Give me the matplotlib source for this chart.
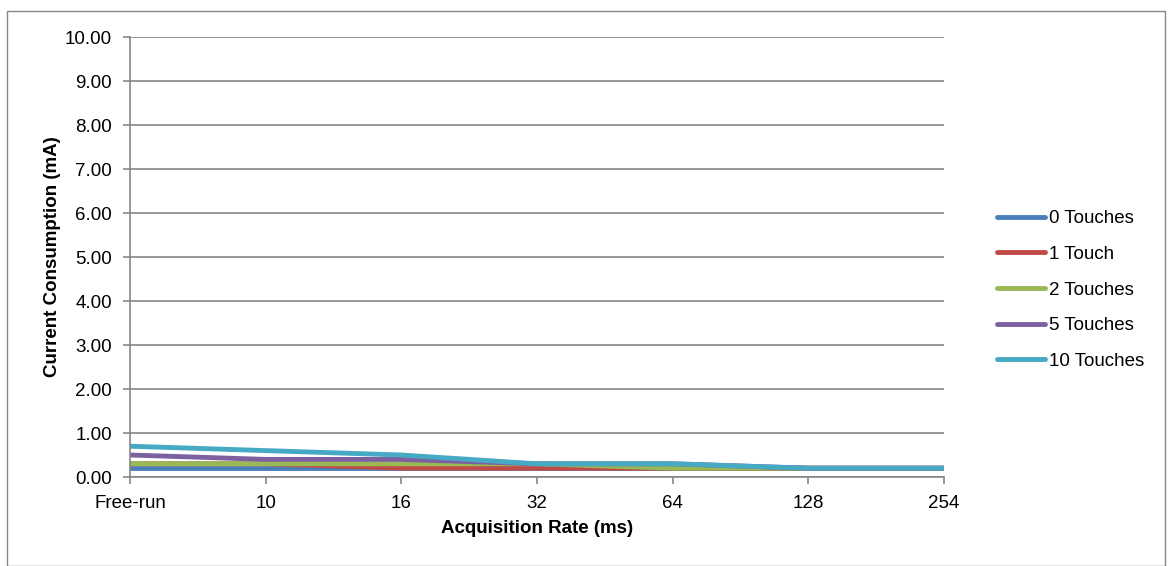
import matplotlib
matplotlib.use("Agg")
import matplotlib.pyplot as plt
from matplotlib.patches import Rectangle

categories = ["Free-run", "10", "16", "32", "64", "128", "254"]
series_names = ["0 Touches", "1 Touch", "2 Touches", "5 Touches", "10 Touches"]
touch0 = [0.2, 0.2, 0.2, 0.2, 0.2, 0.2, 0.2]
touch1 = [0.3, 0.3, 0.2, 0.2, 0.2, 0.2, 0.2]
touch2 = [0.3, 0.3, 0.3, 0.3, 0.2, 0.2, 0.2]
touch5 = [0.5, 0.4, 0.4, 0.3, 0.3, 0.2, 0.2]
touch10 = [0.7, 0.6, 0.5, 0.3, 0.3, 0.2, 0.2]
colors = ["#4A7EBB", "#BE4B48", "#98B954", "#7D60A0", "#46AAC5"]
yticks = [0, 1, 2, 3, 4, 5, 6, 7, 8, 9, 10]

plt.rcParams['font.family'] = ['Liberation Sans', 'DejaVu Sans']
FS = 13.5

W, H = 1171, 566
fig = plt.figure(figsize=(W / 100, H / 100), dpi=100)
fig.patch.set_facecolor("white")

# outer chart border
fig.patches.append(Rectangle((7 / W, 0), (1165 - 7) / W, (H - 11) / H,
                             transform=fig.transFigure, fill=False,
                             edgecolor="#868686", linewidth=1.0))

left, right, top, bottom = 130, 944, 37, 477
ax = fig.add_axes([left / W, 1 - bottom / H, (right - left) / W, (bottom - top) / H])

x = list(range(len(categories)))
for name, vals, c in zip(series_names, [touch0, touch1, touch2, touch5, touch10], colors):
    ax.plot(x, vals, color=c, linewidth=3.5, label=name, solid_capstyle="round")

ax.set_xlim(0, len(categories) - 1)
ax.set_ylim(0, 10)
ax.set_yticks(yticks)
ax.set_yticklabels([f"{v:.2f}" for v in yticks])
ax.set_xticks(x)
ax.set_xticklabels(categories)
ax.yaxis.grid(True, color="#868686", linewidth=1.2)
ax.set_axisbelow(True)
for s in ["top", "right"]:
    ax.spines[s].set_visible(False)
for s in ["left", "bottom"]:
    ax.spines[s].set_color("#868686")
    ax.spines[s].set_linewidth(1.2)
ax.tick_params(axis="both", colors="#868686", length=5, width=1.2, labelcolor="black",
               labelsize=FS)
ax.tick_params(axis="x", pad=8)
ax.tick_params(axis="y", pad=8)

ax.set_xlabel("Acquisition Rate (ms)", fontsize=FS, fontweight="bold", labelpad=6)
ax.set_ylabel("Current Consumption (mA)", fontsize=FS, fontweight="bold", labelpad=3)

leg = fig.legend(loc="center left", bbox_to_anchor=(997 / W, 1 - 290 / H), frameon=False,
                 fontsize=FS, handlelength=2.55, handletextpad=0.2, labelspacing=0.99,
                 borderpad=0, borderaxespad=0)
for line in leg.get_lines():
    line.set_linewidth(3.5)

fig.savefig("out.png", dpi=100)
